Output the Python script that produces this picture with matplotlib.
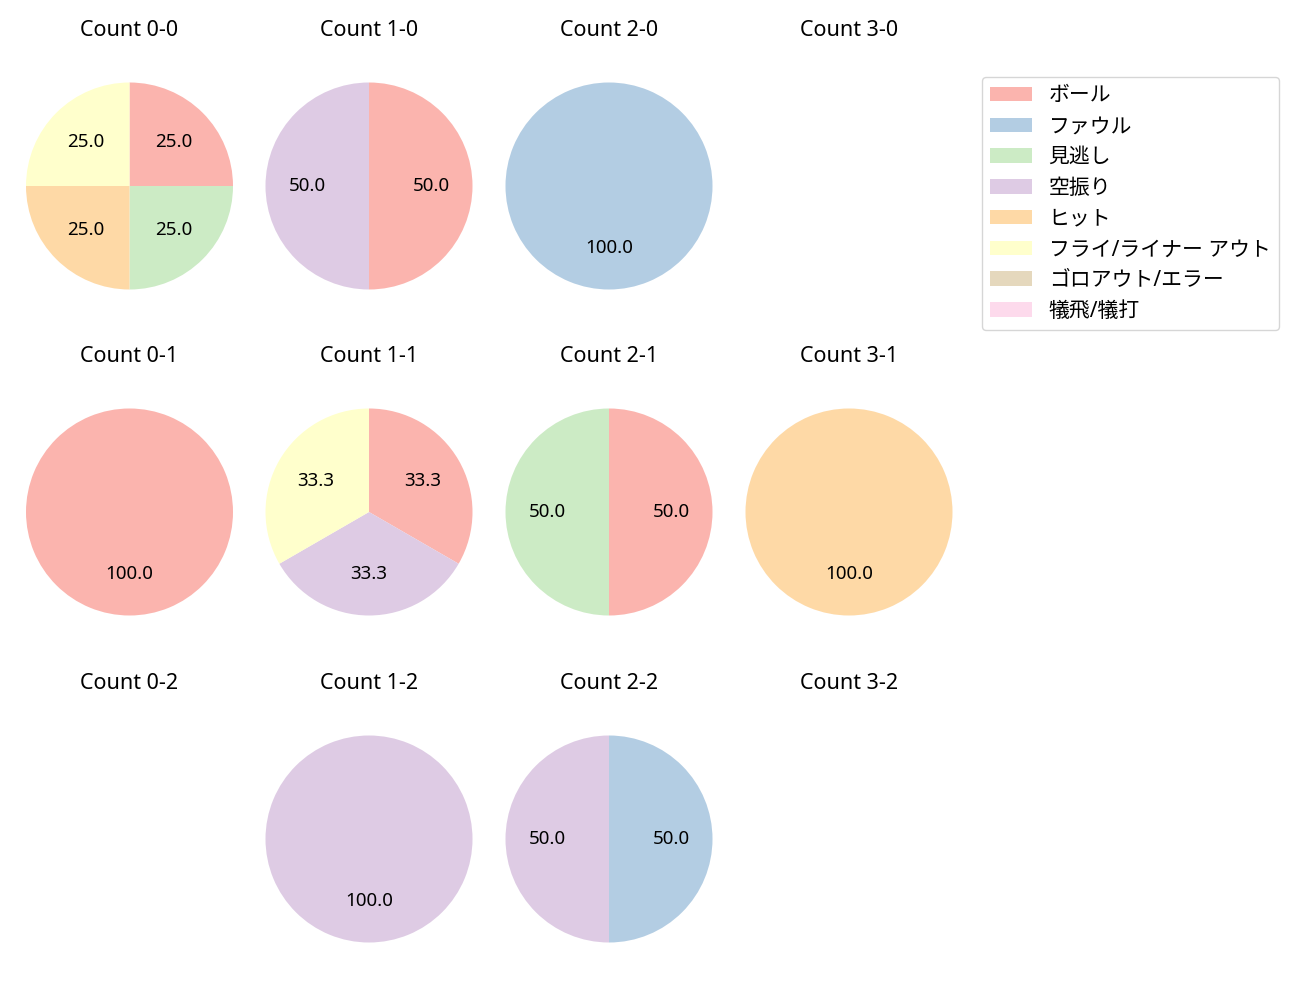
import matplotlib.pyplot as plt
from matplotlib.patches import Patch

plt.rcParams['font.family'] = ['Noto Sans', 'Noto Sans CJK JP', 'DejaVu Sans']

categories = ['ボール', 'ファウル', '見逃し', '空振り', 'ヒット',
              'フライ/ライナー アウト', 'ゴロアウト/エラー', '犠飛/犠打']
colors = plt.cm.Pastel1.colors[:8]

# pitch result counts per ball-strike count (order follows categories)
count_0_0 = [1, 0, 1, 0, 1, 1, 0, 0]
count_1_0 = [1, 0, 0, 1, 0, 0, 0, 0]
count_2_0 = [0, 1, 0, 0, 0, 0, 0, 0]
count_3_0 = [0, 0, 0, 0, 0, 0, 0, 0]
count_0_1 = [1, 0, 0, 0, 0, 0, 0, 0]
count_1_1 = [1, 0, 0, 1, 0, 1, 0, 0]
count_2_1 = [1, 0, 1, 0, 0, 0, 0, 0]
count_3_1 = [0, 0, 0, 0, 1, 0, 0, 0]
count_0_2 = [0, 0, 0, 0, 0, 0, 0, 0]
count_1_2 = [0, 0, 0, 1, 0, 0, 0, 0]
count_2_2 = [0, 1, 0, 1, 0, 0, 0, 0]
count_3_2 = [0, 0, 0, 0, 0, 0, 0, 0]

grid = [
    [('0-0', count_0_0), ('1-0', count_1_0), ('2-0', count_2_0), ('3-0', count_3_0)],
    [('0-1', count_0_1), ('1-1', count_1_1), ('2-1', count_2_1), ('3-1', count_3_1)],
    [('0-2', count_0_2), ('1-2', count_1_2), ('2-2', count_2_2), ('3-2', count_3_2)],
]

W, H = 1300, 1000
fig = plt.figure(figsize=(13, 10), dpi=100)

col_x = [129.5, 369, 609, 849]
row_y = [186, 512, 839]
radius_px = 103.5
side = 2.5 * radius_px

for r, row in enumerate(grid):
    for c, (name, vals) in enumerate(row):
        cx, cy = col_x[c], row_y[r]
        ax = fig.add_axes([(cx - side / 2) / W, (H - cy - side / 2) / H,
                           side / W, side / H])
        ax.set_title(f'Count {name}', fontsize=15.5, pad=15)
        sizes = [v for v in vals if v > 0]
        cols = [colors[i] for i, v in enumerate(vals) if v > 0]
        if sizes:
            ax.pie(sizes, colors=cols, startangle=90, counterclock=False,
                   autopct='%.1f', textprops={'fontsize': 13.5})
        else:
            ax.set_xlim(-1.25, 1.25)
            ax.set_ylim(-1.25, 1.25)
        ax.axis('off')

handles = [Patch(facecolor=colors[i], label=categories[i]) for i in range(8)]
fig.legend(handles=handles, loc='upper left',
           bbox_to_anchor=(982 / W, 1 - 77 / H), borderaxespad=0,
           fontsize=15, labelspacing=0.47)

fig.savefig('out.png', dpi=100)
